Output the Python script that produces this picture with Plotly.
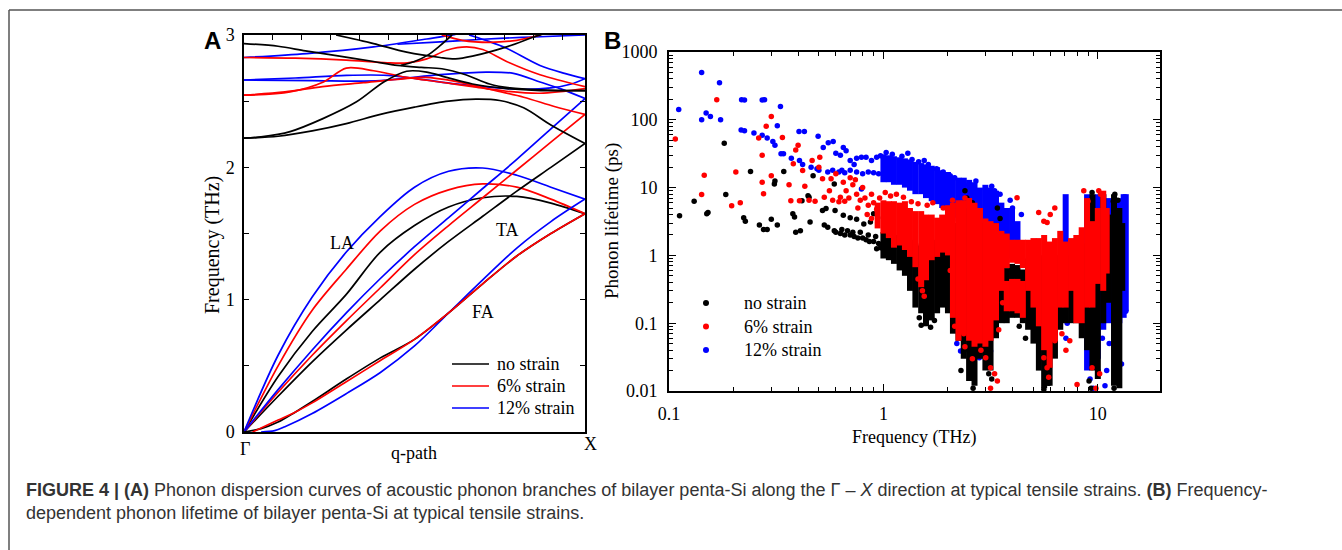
import plotly.graph_objects as go

W, H = 1342, 550


def px(x):
    return x / W


def py(y):
    return 1 - y / H


SERIF = "Liberation Serif, Times New Roman, serif"
SANS = "Liberation Sans, Arial, Helvetica, sans-serif"

# ---------------- Panel A: dispersion (q normalised 0=Gamma, 1=X ; f in THz) ----------------
q_ac = [0, 0.1, 0.2, 0.3, 0.4, 0.5, 0.6, 0.7, 0.8, 0.9, 1.0]
la_black = [0, 0.42, 0.76, 1.04, 1.36, 1.56, 1.70, 1.77, 1.78, 1.73, 1.65]
la_red = [0, 0.50, 0.92, 1.23, 1.52, 1.72, 1.83, 1.875, 1.85, 1.76, 1.65]
la_blue = [0, 0.58, 1.02, 1.36, 1.63, 1.85, 1.97, 1.995, 1.94, 1.85, 1.76]
ta_black = [0, 0.27, 0.53, 0.77, 1.00, 1.23, 1.44, 1.63, 1.82, 2.00, 2.18]
ta_red = [0, 0.30, 0.58, 0.84, 1.09, 1.34, 1.56, 1.77, 1.98, 2.19, 2.40]
ta_blue = [0, 0.32, 0.62, 0.90, 1.16, 1.40, 1.62, 1.84, 2.06, 2.29, 2.52]
q_fa_black = [0, 0.05, 0.1, 0.15, 0.2, 0.3, 0.4, 0.5, 0.6, 0.7, 0.8, 0.9, 1.0]
fa_black = [0, 0.025, 0.075, 0.15, 0.23, 0.40, 0.56, 0.70, 0.90, 1.12, 1.33, 1.50, 1.65]
q_fa_red = [0.025, 0.05, 0.1, 0.15, 0.2, 0.3, 0.4, 0.5, 0.6, 0.7, 0.8, 0.9, 1.0]
fa_red = [0, 0.03, 0.09, 0.15, 0.22, 0.38, 0.54, 0.70, 0.90, 1.12, 1.33, 1.50, 1.65]
q_fa_blue = [0.05, 0.09, 0.12, 0.2, 0.3, 0.4, 0.5, 0.6, 0.7, 0.8, 0.9, 1.0]
fa_blue = [0, 0.01, 0.04, 0.14, 0.29, 0.45, 0.65, 0.90, 1.15, 1.39, 1.59, 1.76]

# optical branches (upper part)
k1_q = [0, 0.1, 0.18, 0.28, 0.38, 0.45, 0.52, 0.58, 0.65, 0.72, 0.78, 0.87, 1.0]
k1_f = [2.935, 2.915, 2.88, 2.84, 2.80, 2.77, 2.755, 2.745, 2.70, 2.63, 2.60, 2.585, 2.58]
k1up_q = [0.46, 0.5, 0.54, 0.575, 0.61]
k1up_f = [2.77, 2.80, 2.85, 2.92, 3.0]
k3_q = [0, 0.05, 0.135, 0.233, 0.33, 0.41, 0.477, 0.536, 0.594, 0.67, 0.77, 0.87, 1.0]
k3_f = [2.22, 2.23, 2.27, 2.37, 2.495, 2.645, 2.726, 2.72, 2.68, 2.63, 2.595, 2.58, 2.58]
k4_q = [0, 0.1, 0.2, 0.3, 0.4, 0.5, 0.6, 0.68, 0.75, 0.82, 0.9, 1.0]
k4_f = [2.22, 2.235, 2.275, 2.33, 2.40, 2.455, 2.50, 2.515, 2.505, 2.45, 2.32, 2.18]
k5_q = [0.27, 0.38, 0.477, 0.575, 0.62, 0.67, 0.77, 0.85, 0.88]
k5_f = [3.0, 2.935, 2.87, 2.83, 2.82, 2.84, 2.91, 2.985, 3.01]

u1_q = [0, 0.184, 0.38, 0.536, 0.6, 0.62]
u1_f = [2.83, 2.86, 2.91, 2.97, 2.995, 3.005]
u1b_q = [0.45, 0.55, 0.65, 0.75, 0.85, 1.0]
u1b_f = [2.93, 2.945, 2.96, 2.975, 2.985, 3.0]
u2_q = [0.66, 0.72, 0.77, 0.868, 0.94, 1.0]
u2_f = [3.0, 2.95, 2.90, 2.77, 2.71, 2.67]
u3a_q = [0, 0.15, 0.3, 0.42, 0.52, 0.62, 0.72, 0.82, 0.9, 0.96, 1.0]
u3a_f = [2.66, 2.675, 2.695, 2.695, 2.665, 2.63, 2.605, 2.59, 2.60, 2.63, 2.67]
u3b_q = [0, 0.2, 0.4, 0.575, 0.71, 0.79, 0.868, 0.927, 1.0]
u3b_f = [2.66, 2.655, 2.655, 2.70, 2.72, 2.71, 2.645, 2.595, 2.52]

r1_q = [0, 0.15, 0.3, 0.42, 0.48, 0.536, 0.594, 0.653, 0.7, 0.77, 0.868, 1.0]
r1_f = [2.83, 2.825, 2.81, 2.79, 2.79, 2.82, 2.885, 2.91, 2.89, 2.80, 2.70, 2.61]
rtop_q = [0.58, 0.64, 0.72, 0.8, 0.87]
rtop_f = [3.0, 2.96, 2.945, 2.96, 3.0]
r2_q = [0, 0.135, 0.233, 0.30, 0.38, 0.477, 0.575, 0.67, 0.77, 0.868, 1.0]
r2_f = [2.545, 2.57, 2.645, 2.75, 2.73, 2.68, 2.645, 2.61, 2.575, 2.56, 2.595]
r3_q = [0, 0.12, 0.23, 0.35, 0.45, 0.53, 0.62, 0.72, 0.82, 0.91, 1.0]
r3_f = [2.545, 2.57, 2.61, 2.64, 2.665, 2.68, 2.65, 2.59, 2.53, 2.46, 2.40]

top_tick_q = [0.0848 * k for k in range(1, 12)]

# ---------------- Panel B: phonon lifetime (f THz, tau ps) ----------------
# dense streaks: (frequency, lowest lifetime, highest lifetime)
blue_streaks = [
    (1.00, 12, 31), (1.06, 12, 30), (1.12, 11, 29), (1.19, 11, 28), (1.26, 10, 27),
    (1.33, 9, 26), (1.41, 8, 24), (1.50, 8, 23), (1.58, 7, 22), (1.68, 6.3, 21),
    (1.78, 5.7, 20), (1.88, 5, 18), (2.00, 4.5, 17), (2.11, 3.6, 15), (2.24, 3.2, 14),
    (2.37, 2.6, 14), (2.51, 2.1, 13), (2.66, 2.1, 12), (2.82, 2.1, 10), (2.99, 1.8, 11),
    (3.16, 1.6, 10), (3.35, 1.6, 9), (3.55, 1.3, 6), (3.76, 1.2, 5), (3.98, 0.9, 5),
    (4.22, 0.9, 3.2), (7.08, 0.5, 8), (8.91, 0.02, 8), (9.44, 0.05, 7), (10.0, 0.03, 8),
    (10.6, 0.08, 8), (11.2, 0.1, 7), (11.9, 0.05, 6), (12.6, 0.1, 7), (13.2, 0.12, 8),
    (13.5, 0.15, 8),
]
black_streaks = [
    (1.00, 0.9, 2.2), (1.06, 0.85, 2.1), (1.12, 0.75, 2.0), (1.19, 0.6, 1.9), (1.26, 0.5, 1.8),
    (1.33, 0.3, 1.7), (1.41, 0.17, 1.5), (1.50, 0.14, 1.4), (1.58, 0.09, 1.3), (1.68, 0.11, 1.3),
    (1.78, 0.14, 1.7), (1.88, 0.17, 2.0), (2.00, 0.14, 3.0), (2.11, 0.07, 3.0), (2.24, 0.055, 3.0),
    (2.37, 0.03, 5), (2.51, 0.014, 4), (2.66, 0.012, 4), (2.82, 0.03, 3), (2.99, 0.02, 2),
    (3.16, 0.02, 2), (3.35, 0.06, 3), (3.55, 0.1, 1), (3.76, 0.1, 0.65), (3.98, 0.12, 0.75),
    (4.22, 0.12, 0.72), (4.47, 0.1, 0.62), (4.73, 0.08, 0.9), (5.01, 0.05, 1), (5.31, 0.02, 1),
    (5.62, 0.011, 1), (5.96, 0.012, 1), (6.31, 0.03, 1), (6.68, 0.08, 1), (7.08, 0.1, 1),
    (7.50, 0.1, 1), (7.94, 0.1, 1.2), (8.41, 0.06, 1.2), (8.91, 0.04, 1.5), (9.44, 0.02, 8),
    (10.0, 0.015, 5), (10.6, 0.1, 8), (11.2, 0.2, 4), (11.9, 0.012, 8), (12.6, 0.011, 5),
    (13.0, 0.3, 3),
]
red_streaks = [
    (0.94, 2.5, 6), (1.00, 2.1, 6.5), (1.06, 1.8, 6.3), (1.12, 1.3, 6.3), (1.19, 1.4, 6.0),
    (1.26, 1.2, 6.3), (1.33, 0.95, 5), (1.41, 0.67, 4.5), (1.50, 0.34, 4.5), (1.58, 0.43, 4),
    (1.68, 0.85, 4), (1.78, 0.95, 3.6), (1.88, 1.1, 4), (2.00, 1.0, 5.5), (2.11, 0.12, 6),
    (2.24, 0.055, 6.5), (2.37, 0.07, 6.5), (2.51, 0.055, 7), (2.66, 0.045, 6), (2.82, 0.05, 5),
    (2.99, 0.045, 3.5), (3.16, 0.055, 3.2), (3.35, 0.11, 3), (3.55, 0.3, 2.3),
    (3.76, 0.65, 2.1), (3.76, 0.15, 0.42), (3.98, 0.78, 1.7), (3.98, 0.15, 0.45),
    (4.22, 0.75, 1.7), (4.22, 0.14, 0.45), (4.47, 0.65, 1.7), (4.47, 0.12, 0.42),
    (4.73, 0.3, 1.7), (5.01, 0.17, 1.8),
    (5.31, 0.09, 1.8), (5.62, 0.04, 2), (5.96, 0.022, 1.6), (6.31, 0.055, 1.8), (6.68, 0.17, 2.3),
    (7.08, 0.17, 1.6), (7.50, 0.3, 1.8), (7.94, 0.1, 2), (8.41, 0.1, 2.6), (8.91, 0.17, 7),
    (9.44, 0.17, 3.2), (10.0, 0.38, 5), (10.6, 0.3, 9), (11.0, 0.54, 5),
]
# individual (sparse) points: (frequency, lifetime)
blue_points = [
    (0.111, 142), (0.142, 500), (0.142, 100), (0.149, 126), (0.156, 112), (0.172, 352),
    (0.174, 100), (0.218, 198), (0.225, 196), (0.217, 71), (0.225, 69), (0.249, 64),
    (0.272, 196), (0.279, 198), (0.272, 59), (0.287, 54), (0.305, 48), (0.312, 42),
    (0.331, 157), (0.320, 82), (0.333, 31.5), (0.342, 31.5), (0.372, 27), (0.404, 67),
    (0.428, 67), (0.406, 25), (0.42, 22), (0.496, 57), (0.46, 20), (0.49, 19), (0.524, 39),
    (0.553, 46), (0.583, 48), (0.65, 39), (0.67, 35), (0.70, 25), (0.73, 22), (0.64, 18),
    (0.75, 27), (0.79, 28), (0.83, 28), (0.88, 25), (0.93, 28), (0.97, 29.5), (1.77, 19),
    (0.50, 18), (0.55, 17), (0.58, 18), (0.62, 17), (0.66, 16.5), (0.70, 18), (0.75, 17),
    (0.80, 16), (0.85, 17), (0.90, 16.5), (0.95, 16), (0.60, 32), (0.63, 30), (0.79, 9.5),
    (2.05, 15), (2.5, 11), (3.2, 10.5), (3.3, 9), (4.0, 5), (2.29, 0.039), (2.58, 0.033),
    (2.8, 0.031), (3.16, 0.039), (2.2, 0.05), (2.85, 0.047), (2.36, 0.078), (4.2, 1.2),
    (4.0, 1.0), (7.1, 0.3), (7.0, 0.2), (7.2, 0.1), (7.1, 0.06), (9.0, 0.03), (9.2, 0.015),
    (9.5, 0.011), (10.0, 0.02), (10.5, 0.06), (10.8, 0.012), (12.9, 0.025), (13.5, 0.15),
    (11.3, 0.05), (11.0, 0.02), (9.3, 0.05),
    (1.03, 33), (1.1, 31), (1.22, 29), (1.36, 26), (1.46, 24), (1.62, 22), (1.9, 17),
    (2.15, 14), (2.7, 12.5), (3.5, 8), (3.9, 6.5), (4.4, 4), (1.3, 32), (1.55, 25),
]
black_points = [
    (0.112, 3.86), (0.131, 6.3), (0.150, 4.1), (0.152, 4.3), (0.181, 45), (0.184, 7.9),
    (0.223, 3.6), (0.227, 3.2), (0.24, 17.3), (0.264, 2.8), (0.276, 2.4), (0.287, 2.4),
    (0.30, 3.4), (0.31, 11.3), (0.312, 12.5), (0.32, 2.8), (0.343, 17.3), (0.378, 4.1),
    (0.385, 3.7), (0.39, 2.2), (0.41, 2.3), (0.417, 6.4), (0.445, 7.6), (0.45, 7.2),
    (0.455, 3.1), (0.47, 15), (0.52, 4.6), (0.53, 2.8), (0.55, 2.6), (0.59, 2.3),
    (0.59, 11.3), (0.54, 4.9), (0.595, 4.6), (0.65, 3.9), (0.70, 3.6), (0.75, 3.4),
    (0.81, 2.9), (0.87, 3.1), (0.90, 4.1), (0.94, 3.6),
    (0.60, 2.2), (0.63, 2.1), (0.66, 2.0), (0.70, 2.0), (0.73, 1.9), (0.76, 1.8), (0.80, 1.8),
    (0.83, 1.7), (0.86, 1.6), (0.90, 1.6), (0.95, 1.5), (0.64, 2.4), (0.68, 2.3), (0.72, 2.2),
    (0.78, 2.2), (0.85, 2.0), (0.92, 1.9), (0.97, 1.3), (0.93, 1.25),
    (1.5, 0.093), (1.66, 0.087), (1.73, 0.11), (2.62, 0.011), (3.1, 0.018), (3.2, 0.015),
    (2.5, 0.04), (5.6, 0.0106), (5.9, 0.013), (9.1, 0.014), (9.3, 0.011), (11.9, 0.011),
    (1.47, 0.12), (2.3, 0.02), (4.3, 0.09), (4.6, 0.06),
    (2.4, 9), (2.45, 7), (2.6, 6), (3.4, 5), (3.5, 3.5), (9.4, 8.5), (11.8, 6.3), (12.0, 8),
    (12.4, 6.5),
]
red_points = [
    (0.107, 52), (0.142, 7.9), (0.146, 15.2), (0.167, 198), (0.196, 5.4), (0.205, 17),
    (0.215, 6.0), (0.262, 54), (0.272, 30), (0.272, 12), (0.276, 8.1), (0.284, 80),
    (0.30, 112), (0.30, 15), (0.338, 55), (0.363, 11), (0.37, 6.4), (0.38, 22.4), (0.39, 36),
    (0.40, 42), (0.406, 6.4), (0.42, 17.8), (0.43, 10.5), (0.465, 25), (0.50, 20),
    (0.505, 28), (0.52, 13.5), (0.53, 7.2), (0.56, 9), (0.57, 13.5), (0.60, 16), (0.63, 7.2),
    (0.65, 12), (0.67, 9), (0.69, 7), (0.72, 11), (0.75, 8), (0.78, 6.5), (0.80, 10),
    (0.82, 7), (0.85, 5.5), (0.88, 8), (0.90, 6), (0.93, 4.8), (0.96, 7), (0.62, 6.2),
    (0.66, 6.3), (0.58, 6.5), (0.70, 14), (0.74, 13), (0.76, 5), (0.84, 4), (0.88, 3.5),
    (0.45, 6.5), (0.48, 6.3),
    (2.37, 0.07), (2.7, 0.055), (2.85, 0.04), (3.0, 0.031), (3.16, 0.022), (3.3, 0.018),
    (3.4, 0.014), (3.16, 0.011), (5.8, 0.022), (5.9, 0.016), (5.6, 0.031), (7.1, 0.04),
    (7.4, 0.055), (8.0, 0.0125), (9.8, 0.011), (10.2, 0.018), (9.4, 0.022), (6.3, 0.055),
    (6.8, 0.07), (2.4, 0.045), (2.6, 0.03),
    (5.8, 3.05), (6.0, 4), (8.6, 9), (9.0, 6.3), (10.1, 9), (10.3, 8), (4.2, 7.1), (6.3, 5),
    (5.3, 4.3), (5.6, 3.2), (2.4, 7), (2.1, 6.5), (1.6, 5.5), (1.7, 6), (1.9, 5),
    (1.02, 8.5), (1.08, 7.5), (1.15, 8), (1.24, 7.2), (1.35, 6.2), (1.45, 5.8), (1.52, 0.3),
    (1.55, 0.25), (1.45, 0.45), (2.05, 0.6), (2.15, 0.09), (3.45, 0.08), (3.6, 0.2),
]

series_names = ["no strain", "6% strain", "12% strain"]
series_colors = ["#000000", "#ff0000", "#0000ff"]

fig = go.Figure()

# ---- Panel A traces ----
curves_a = [
    (q_ac, la_black, "#000000"), (q_ac, la_red, "#ff0000"), (q_ac, la_blue, "#0000ff"),
    (q_ac, ta_black, "#000000"), (q_ac, ta_red, "#ff0000"), (q_ac, ta_blue, "#0000ff"),
    (q_fa_blue, fa_blue, "#0000ff"), (q_fa_black, fa_black, "#000000"), (q_fa_red, fa_red, "#ff0000"),
    (u1_q, u1_f, "#0000ff"), (u1b_q, u1b_f, "#0000ff"), (u2_q, u2_f, "#0000ff"),
    (u3a_q, u3a_f, "#0000ff"), (u3b_q, u3b_f, "#0000ff"),
    (r1_q, r1_f, "#ff0000"), (rtop_q, rtop_f, "#ff0000"), (r2_q, r2_f, "#ff0000"),
    (r3_q, r3_f, "#ff0000"),
    (k1_q, k1_f, "#000000"), (k1up_q, k1up_f, "#000000"), (k3_q, k3_f, "#000000"),
    (k4_q, k4_f, "#000000"), (k5_q, k5_f, "#000000"),
]
for qq, ff, col in curves_a:
    fig.add_trace(go.Scatter(
        x=qq, y=ff, mode="lines", xaxis="x", yaxis="y",
        line=dict(color=col, width=1.7, shape="spline", smoothing=0.9),
        showlegend=False, hoverinfo="skip"))

# invisible trace to carry the top tick axis
fig.add_trace(go.Scatter(x=[0, 1], y=[0, 0], mode="lines", xaxis="x3", yaxis="y",
                         line=dict(color="rgba(0,0,0,0)"), showlegend=False, hoverinfo="skip"))


# ---- Panel B traces ----
def streak_xy(cols):
    xs, ys = [], []
    for f, lo, hi in cols:
        xs += [f, f, None]
        ys += [lo, hi, None]
    return xs, ys


for cols, pts, col in [(blue_streaks, blue_points, "#0000ff"),
                       (black_streaks, black_points, "#000000"),
                       (red_streaks, red_points, "#ff0000")]:
    sx, sy = streak_xy(cols)
    fig.add_trace(go.Scatter(x=sx, y=sy, mode="lines", xaxis="x2", yaxis="y2",
                             line=dict(color=col, width=6), showlegend=False,
                             hoverinfo="skip", connectgaps=False))
    fig.add_trace(go.Scatter(x=[p[0] for p in pts], y=[p[1] for p in pts], mode="markers",
                             xaxis="x2", yaxis="y2",
                             marker=dict(color=col, size=5.5, line=dict(width=0)),
                             showlegend=False, hoverinfo="skip"))

tickfont = dict(family=SERIF, size=18, color="black")

minor_x = [m * 10 ** e for e in (-1, 0, 1) for m in range(2, 10) if m * 10 ** e < 19.5]
minor_y = [m * 10 ** e for e in (-2, -1, 0, 1, 2) for m in range(2, 10)]

fig.update_layout(
    width=W, height=H,
    margin=dict(l=0, r=0, t=0, b=0, pad=0, autoexpand=False),
    paper_bgcolor="white", plot_bgcolor="white",
    showlegend=False,
    xaxis=dict(domain=[px(244), px(585)], range=[0, 1], anchor="y",
               showticklabels=False, ticks="", showgrid=False, zeroline=False,
               showline=True, linecolor="black", linewidth=1.5, mirror=True),
    xaxis3=dict(overlaying="x", side="top", range=[0, 1], anchor="y",
                tickmode="array", tickvals=top_tick_q, ticks="inside", ticklen=5,
                tickwidth=1.2, tickcolor="black", showticklabels=False,
                showgrid=False, zeroline=False, showline=False),
    yaxis=dict(domain=[py(432), py(35)], range=[0, 3], anchor="x",
               tickmode="array", tickvals=[0, 0.5, 1, 1.5, 2, 2.5, 3],
               ticktext=["0", "", "1", "", "2", "", "3"],
               ticks="inside", ticklen=5, tickwidth=1.2, tickcolor="black",
               tickfont=tickfont, ticklabelstandoff=4,
               showgrid=False, zeroline=False,
               showline=True, linecolor="black", linewidth=1.5, mirror="ticks"),
    xaxis2=dict(type="log", domain=[px(669), px(1160)], range=[-1, 1.29], anchor="y2",
                tickmode="array", tickvals=[0.1, 1, 10], ticktext=["0.1", "1", "10"],
                ticks="inside", ticklen=7, tickwidth=1.2, tickcolor="black",
                minor=dict(tickmode="array", tickvals=minor_x, ticks="inside", ticklen=4,
                           tickwidth=1, tickcolor="black", showgrid=False),
                tickfont=tickfont, ticklabelstandoff=6,
                showgrid=False, zeroline=False,
                showline=True, linecolor="black", linewidth=1.6, mirror="ticks"),
    yaxis2=dict(type="log", domain=[py(391), py(52)], range=[-2, 3], anchor="x2",
                tickmode="array", tickvals=[0.01, 0.1, 1, 10, 100, 1000],
                ticktext=["0.01", "0.1", "1", "10", "100", "1000"],
                ticks="inside", ticklen=7, tickwidth=1.2, tickcolor="black",
                minor=dict(tickmode="array", tickvals=minor_y, ticks="inside", ticklen=4,
                           tickwidth=1, tickcolor="black", showgrid=False),
                tickfont=tickfont, ticklabelstandoff=6,
                showgrid=False, zeroline=False,
                showline=True, linecolor="black", linewidth=1.6, mirror="ticks"),
)

shapes = [
    # page frame
    dict(type="line", xref="paper", yref="paper", x0=px(9), x1=1.0, y0=py(10), y1=py(10),
         line=dict(color="#555555", width=1.5)),
    dict(type="line", xref="paper", yref="paper", x0=px(9), x1=px(9), y0=py(10), y1=0,
         line=dict(color="#555555", width=1.5)),
]
annotations = []


def ann(text, x, y, size=18, family=SERIF, xanchor="center", yanchor="middle", angle=0,
        color="black"):
    annotations.append(dict(text=text, x=px(x), y=py(y), xref="paper", yref="paper",
                            showarrow=False, xanchor=xanchor, yanchor=yanchor,
                            textangle=angle, font=dict(family=family, size=size, color=color)))


# panel letters
ann("<b>A</b>", 212, 40, size=24, family=SANS)
ann("<b>B</b>", 612, 40, size=24, family=SANS)
# panel A texts
ann("Frequency (THz)", 212, 245, size=20, angle=-90)
ann("Γ", 245, 449)
ann("q-path", 414, 453)
ann("X", 590, 444)
ann("LA", 342, 243)
ann("TA", 507, 230)
ann("FA", 483, 312)
# panel B titles
ann("Phonon lifetime (ps)", 612, 221, size=19, angle=-90)
ann("Frequency (THz)", 914, 437)

# legend A (lines)
for i, (nm, col) in enumerate(zip(series_names, series_colors)):
    yy = 364 + 22 * i
    shapes.append(dict(type="line", xref="paper", yref="paper", x0=px(452), x1=px(489),
                       y0=py(yy), y1=py(yy), line=dict(color=col, width=1.7)))
    ann(nm, 495, yy, xanchor="left")

# legend B (markers)
for i, (nm, col) in enumerate(zip(series_names, series_colors)):
    yy = 303 + 23.5 * i
    shapes.append(dict(type="circle", xref="paper", yref="paper", xsizemode="pixel",
                       ysizemode="pixel", xanchor=px(706), yanchor=py(yy),
                       x0=-3, x1=3, y0=-3, y1=3, fillcolor=col, line=dict(width=0)))
    ann(nm, 742, yy, xanchor="left")

# caption
cap1 = ("<b>FIGURE 4 | (A)</b> Phonon dispersion curves of acoustic phonon branches of bilayer "
        "penta-Si along the Γ – <i>X</i> direction at typical tensile strains. <b>(B)</b> Frequency-")
cap2 = "dependent phonon lifetime of bilayer penta-Si at typical tensile strains."
ann(cap1, 24, 490, size=18, family=SANS, xanchor="left", color="#333333")
ann(cap2, 24, 513, size=18, family=SANS, xanchor="left", color="#333333")

fig.update_layout(shapes=shapes, annotations=annotations)

fig.write_html("out.html", config={"displayModeBar": False},
               post_script="document.body.style.margin='0px';")
